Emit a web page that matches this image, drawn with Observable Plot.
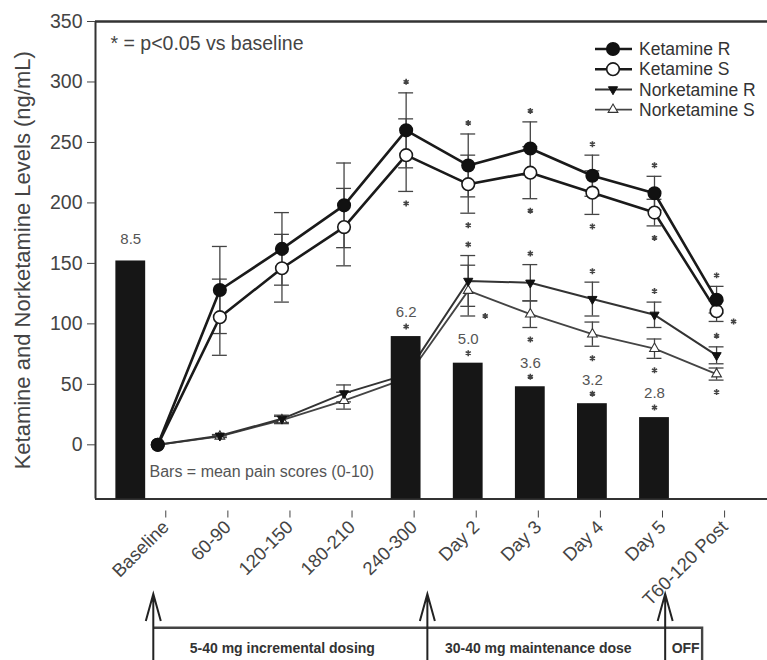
<!DOCTYPE html>
<html>
<head>
<meta charset="utf-8">
<script src="https://cdn.jsdelivr.net/npm/d3@7"></script>
<script src="https://cdn.jsdelivr.net/npm/@observablehq/plot@0.6"></script>
<style>
  html, body { margin: 0; padding: 0; background: #fff; }
  #chart svg { display: block; }
</style>
</head>
<body>
<div id="chart"></div>
<script>
// ---------- data ----------
const categories = ["Baseline", "60-90", "120-150", "180-210", "240-300", "Day 2", "Day 3", "Day 4", "Day 5", "T60-120 Post"];

const ketR    = [0, 128, 162, 198, 260, 231, 245, 222.5, 208, 120];
const ketRerr = [0, 36, 30, 35, 31, 26, 22, 17, 14, 11];
const ketS    = [0, 105.5, 146, 180, 239.5, 215.5, 225, 208.5, 192, 110.5];
const ketSerr = [0, 31.5, 28, 32, 30, 24, 21.5, 18, 11, 8.5];
const norR    = [0, 7.5, 21.5, 42.5, 58, 135.5, 134, 120.5, 107.5, 74];
const norRerr = [0, 1, 3, 7, 8, 21, 15, 14, 10.5, 7];
const norS    = [0, 7, 20.5, 36.5, 55, 127.5, 108, 91.5, 79.5, 58.5];
const norSerr = [0, 1, 3, 7, 8, 21, 11, 10, 8, 5];

// significance markers: a = above, b = below, r = beside (right)
const ketRsig = ["", "", "", "", "a", "a", "a", "a", "a", "a"];
const ketSsig = ["", "", "", "", "b", "b", "b", "b", "b", "r"];
const norRsig = ["", "", "", "", "", "a", "a", "a", "a", "a"];
const norSsig = ["", "", "", "", "", "r", "b", "b", "b", "b"];

// pain score bars (height), labels and significance
const painCats   = ["Baseline", "240-300", "Day 2", "Day 3", "Day 4", "Day 5"];
const painLabels = ["8.5", "6.2", "5.0", "3.6", "3.2", "2.8"];
const painTops   = [152, 89.5, 67.5, 48, 34, 22.5];
const painSig    = [false, true, true, true, true, true];

const yTicks = [0, 50, 100, 150, 200, 250, 300, 350];
const seriesNames = ["Ketamine R", "Ketamine S", "Norketamine R", "Norketamine S"];

const dosingLabels = ["5-40 mg incremental dosing", "30-40 mg maintenance dose", "OFF"];
const dosingStarts = [-0.064, 4.35, 8.18];
const dosingEnd = 8.775;

// ---------- build ----------
const yMin = -44.8, yMax = 350;
const styles = {
  "Ketamine R":    {symbol: "circle",   r: 6.3, fill: "#111", stroke: "#111", sw: 1.5, line: "#1a1a1a", lw: 2.6, rotate: 0},
  "Ketamine S":    {symbol: "circle",   r: 6.3, fill: "#fff", stroke: "#1a1a1a", sw: 1.6, line: "#1a1a1a", lw: 2.6, rotate: 0},
  "Norketamine R": {symbol: "triangle", r: 3.4, fill: "#111", stroke: "#111", sw: 1, line: "#333", lw: 2, rotate: 180},
  "Norketamine S": {symbol: "triangle", r: 3.6, fill: "#fff", stroke: "#333", sw: 1.1, line: "#444", lw: 1.8, rotate: 0}
};
const raw = [[ketR, ketRerr, ketRsig], [ketS, ketSerr, ketSsig], [norR, norRerr, norRsig], [norS, norSerr, norSsig]];
const rows = seriesNames.flatMap((name, k) =>
  raw[k][0].map((v, i) => ({series: name, i, v, e: raw[k][1][i], sig: raw[k][2][i]})));
const errRows = rows.filter(d => d.e > 0);
const bars = painCats.map((c, k) => ({i: categories.indexOf(c), top: painTops[k], label: painLabels[k], sig: painSig[k]}));
const baseBar = bars.filter(d => d.i === 0);
const otherBars = bars.filter(d => d.i !== 0);

const capHalf = 0.12, barHalf = 0.24;
const gray = "#444";

const marks = [
  // frame
  Plot.ruleY([yMax], {stroke: "#333", strokeWidth: 2.4}),
  Plot.ruleY([yMin], {stroke: "#333", strokeWidth: 2}),
  Plot.ruleX([-1.003], {stroke: "#333", strokeWidth: 2}),
  // error bars
  Plot.ruleX(errRows, {x: "i", y1: d => d.v - d.e, y2: d => d.v + d.e, stroke: gray, strokeWidth: 1.3}),
  Plot.ruleY(errRows, {y: d => d.v + d.e, x1: d => d.i - capHalf, x2: d => d.i + capHalf, stroke: gray, strokeWidth: 1.3}),
  Plot.ruleY(errRows, {y: d => d.v - d.e, x1: d => d.i - capHalf, x2: d => d.i + capHalf, stroke: gray, strokeWidth: 1.3}),
];
for (const name of seriesNames.slice().reverse()) {
  const s = styles[name];
  const data = rows.filter(d => d.series === name);
  marks.push(Plot.line(data, {x: "i", y: "v", stroke: s.line, strokeWidth: s.lw}));
}
for (const name of seriesNames.slice().reverse()) {
  const s = styles[name];
  const data = rows.filter(d => d.series === name);
  marks.push(Plot.dot(data, {x: "i", y: "v", symbol: s.symbol, r: s.r, fill: s.fill, stroke: s.stroke, strokeWidth: s.sw, rotate: s.rotate}));
}
const starOpts = {symbol: "asterisk", r: 2.8, stroke: "#444", strokeWidth: 1.6};
marks.push(
  // bars
  Plot.rectY(otherBars, {x1: d => d.i - barHalf, x2: d => d.i + barHalf, y1: yMin, y2: "top", fill: "#161616"}),
  Plot.rectY(baseBar, {x1: d => d.i - barHalf, x2: d => d.i + barHalf, y1: yMin, y2: "top", fill: "#161616", dx: -27}),
  Plot.text(otherBars, {x: "i", y: "top", text: "label", dy: -24, fontSize: 15, fill: "#555"}),
  Plot.text(baseBar, {x: "i", y: "top", text: "label", dy: -22, dx: -27, fontSize: 15, fill: "#555"}),
  Plot.dot(otherBars.filter(d => d.sig), {x: "i", y: "top", dy: -10, ...starOpts}),
  // significance stars
  Plot.dot(rows.filter(d => d.sig === "a"), {x: "i", y: d => d.v + d.e, dy: -11, ...starOpts}),
  Plot.dot(rows.filter(d => d.sig === "b"), {x: "i", y: d => d.v - d.e, dy: 12, ...starOpts}),
  Plot.dot(rows.filter(d => d.sig === "r"), {x: "i", y: d => d.v - d.e, dx: 17, ...starOpts}),
  // axes
  Plot.axisY({ticks: yTicks, tickSize: 8, tickPadding: 5, fontSize: 19.5, label: null, color: gray}),
  Plot.axisX({ticks: d3.range(categories.length), tickFormat: i => categories[i], tickRotate: -45, tickSize: 7, tickPadding: 6, fontSize: 18.5, label: null, color: gray, dx: 8, dy: 12}),
  Plot.text(["Ketamine and Norketamine Levels (ng/mL)"], {frameAnchor: "left", dx: -73, rotate: -90, textAnchor: "middle", lineAnchor: "middle", fontSize: 22, fill: gray}),
  // annotations
  Plot.text(["* = p<0.05 vs baseline"], {frameAnchor: "top-left", dx: 15, dy: 22, textAnchor: "start", lineAnchor: "middle", fontSize: 19.5, fill: gray}),
  Plot.text(["Bars = mean pain scores (0-10)"], {frameAnchor: "bottom-left", dx: 54, dy: -27, textAnchor: "start", lineAnchor: "middle", fontSize: 16, fill: "#555"})
);

const plot = Plot.plot({
  width: 767,
  height: 660,
  marginLeft: 95,
  marginRight: 0,
  marginTop: 21,
  marginBottom: 161.5,
  style: {fontFamily: "'Liberation Sans', Arial, sans-serif", background: "#fff", color: gray},
  x: {type: "linear", domain: [-1.003, 9.82], axis: null},
  y: {domain: [yMin, yMax], axis: null},
  marks
});
document.getElementById("chart").appendChild(plot);

// ---------- legend & dosing schematic (layout annotations) ----------
const svg = d3.select(plot);
const xs = plot.scale("x");
const lg = svg.append("g").attr("font-family", "'Liberation Sans', Arial, sans-serif").attr("text-anchor", "start");
const symMap = {circle: d3.symbolCircle, triangle: d3.symbolTriangle};
seriesNames.forEach((name, k) => {
  const s = styles[name];
  const y = 49 + k * 20.2;
  lg.append("line").attr("x1", 595).attr("x2", 632).attr("y1", y).attr("y2", y)
    .attr("stroke", s.line).attr("stroke-width", s.lw);
  lg.append("path").attr("d", d3.symbol(symMap[s.symbol], Math.PI * s.r * s.r)())
    .attr("transform", `translate(613,${y}) rotate(${s.rotate})`)
    .attr("fill", s.fill).attr("stroke", s.stroke).attr("stroke-width", s.sw);
  lg.append("text").attr("x", 639).attr("y", y).attr("dy", "0.35em")
    .attr("text-anchor", "start")
    .attr("font-size", 17.5).attr("fill", "#333").text(name);
});

const dg = svg.append("g").attr("font-family", "'Liberation Sans', Arial, sans-serif");
const tipY = 594, boxTop = 627.7, bottom = 662;
const xStarts = dosingStarts.map(v => xs.apply(v));
const xEnd = xs.apply(dosingEnd);
dg.append("path").attr("d", `M${xStarts[0]},${boxTop}H${xEnd}V${bottom}`)
  .attr("fill", "none").attr("stroke", "#444").attr("stroke-width", 2.4);
xStarts.forEach(x => {
  dg.append("path").attr("d", `M${x},${bottom}V${tipY}M${x - 7.5},${tipY + 27}L${x},${tipY}L${x + 7.5},${tipY + 27}`)
    .attr("fill", "none").attr("stroke", "#222").attr("stroke-width", 2);
});
dosingLabels.forEach((t, k) => {
  const x0 = xStarts[k], x1 = k + 1 < xStarts.length ? xStarts[k + 1] : xEnd;
  const shift = k + 1 < xStarts.length ? -8 : 2;
  dg.append("text").attr("x", (x0 + x1) / 2 + shift).attr("y", 648.5).attr("dy", "0.35em")
    .attr("text-anchor", "middle").attr("font-size", 14).attr("font-weight", "bold")
    .attr("fill", "#333").text(t);
});
</script>
</body>
</html>
